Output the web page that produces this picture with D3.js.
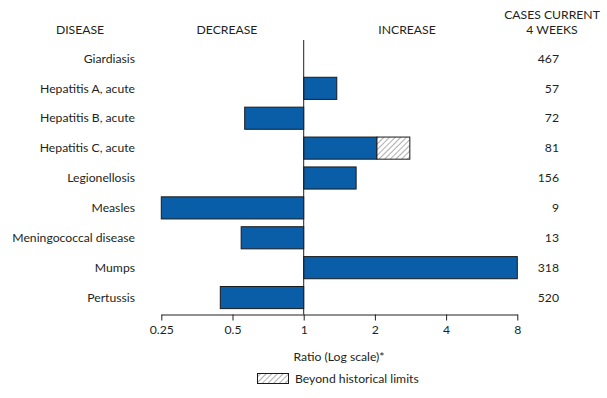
<!DOCTYPE html>
<html><head><meta charset="utf-8">
<script src="https://cdn.jsdelivr.net/npm/d3@7"></script>
<style>
body{margin:0;background:#fff;}
svg text{font-family:Lato,"Open Sans",sans-serif;fill:#231f20;}
</style></head>
<body><svg id="c" width="607" height="398"></svg>
<script>
const diseases = ["Giardiasis","Hepatitis A, acute","Hepatitis B, acute","Hepatitis C, acute","Legionellosis","Measles","Meningococcal disease","Mumps","Pertussis"];
const ratios = [1.0, 1.38, 0.563, 2.04, 1.666, 0.25, 0.544, 8, 0.444];
const beyondLimits = [null, null, null, 2.81, null, null, null, null, null];
const cases = [467, 57, 72, 81, 156, 9, 13, 318, 520];
const tickValues = [0.25, 0.5, 1, 2, 4, 8];
const tickLabels = ["0.25","0.5","1","2","4","8"];

const svg = d3.select("#c");
const x = d3.scaleLog().base(2).domain([0.25, 8]).range([161.3, 517.3]);
const y = d3.scaleBand().domain(diseases).range([43.5, 312.5]).paddingInner(0.26).paddingOuter(0.13);
const axisY = 314.5;
const fs = 12.2;

const defs = svg.append("defs");
const pat = defs.append("pattern").attr("id","hatch").attr("patternUnits","userSpaceOnUse")
  .attr("width",4).attr("height",4).attr("patternTransform","rotate(45)");
pat.append("rect").attr("width",4).attr("height",4).attr("fill","#fff");
pat.append("line").attr("x1",0).attr("y1",0).attr("x2",0).attr("y2",4).attr("stroke","#777").attr("stroke-width",1.2);

// headers
svg.append("text").attr("x",80).attr("y",34).attr("text-anchor","middle").attr("font-size",fs).text("DISEASE");
svg.append("text").attr("x",227).attr("y",34).attr("text-anchor","middle").attr("font-size",fs).text("DECREASE");
svg.append("text").attr("x",407).attr("y",34).attr("text-anchor","middle").attr("font-size",fs).text("INCREASE");
svg.append("text").attr("x",552).attr("y",19).attr("text-anchor","middle").attr("font-size",fs).text("CASES CURRENT");
svg.append("text").attr("x",552).attr("y",34).attr("text-anchor","middle").attr("font-size",fs).text("4 WEEKS");

// bars
const g = svg.append("g");
diseases.forEach((d,i)=>{
  const r = ratios[i];
  if (r !== 1) {
    const x0 = Math.min(x(1), x(r)), x1 = Math.max(x(1), x(r));
    g.append("rect").attr("x",x0).attr("y",y(d)).attr("width",x1-x0).attr("height",y.bandwidth())
      .attr("fill","#0a5ea8").attr("stroke","#1a1a1a").attr("stroke-width",1);
  }
  if (beyondLimits[i]) {
    g.append("rect").attr("x",x(r)).attr("y",y(d)).attr("width",x(beyondLimits[i])-x(r)).attr("height",y.bandwidth())
      .attr("fill","url(#hatch)").attr("stroke","#1a1a1a").attr("stroke-width",1);
  }
  svg.append("text").attr("x",135).attr("y",y(d)+y.bandwidth()/2).attr("dy","0.35em")
    .attr("text-anchor","end").attr("font-size",fs).text(d);
  svg.append("text").attr("x",559).attr("y",y(d)+y.bandwidth()/2).attr("dy","0.35em")
    .attr("text-anchor","end").attr("font-size",fs).text(cases[i]);
});

// center line
svg.append("line").attr("x1",x(1)).attr("x2",x(1)).attr("y1",40).attr("y2",axisY).attr("stroke","#231f20").attr("stroke-width",1);

// axis
const axis = d3.axisBottom(x).tickValues(tickValues).tickFormat((v,i)=>tickLabels[i]).tickSize(6).tickPadding(5).tickSizeOuter(0);
const ag = svg.append("g").attr("transform",`translate(0,${axisY})`).call(axis);
ag.select(".domain").attr("stroke","#231f20");
ag.selectAll(".tick line").attr("stroke","#231f20");
ag.selectAll(".tick text").attr("font-size",fs).attr("font-family","Lato,'Open Sans',sans-serif").attr("fill","#231f20");

svg.append("text").attr("x",339).attr("y",361).attr("text-anchor","middle").attr("font-size",fs).text("Ratio (Log scale)*");

// legend
svg.append("rect").attr("x",257.5).attr("y",373.5).attr("width",31).attr("height",10).attr("fill","url(#hatch)").attr("stroke","#1a1a1a");
svg.append("text").attr("x",295).attr("y",378.5).attr("dy","0.35em").attr("font-size",fs).text("Beyond historical limits");
</script></body></html>
